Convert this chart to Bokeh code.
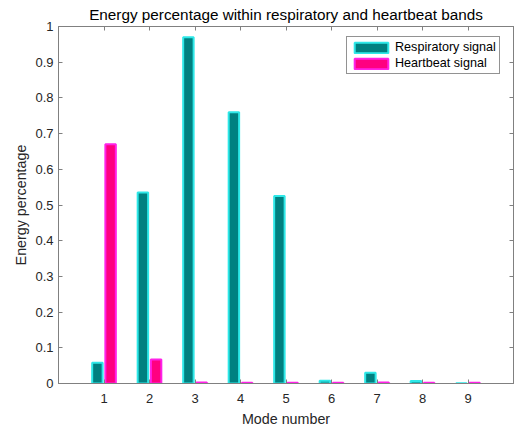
from bokeh.plotting import figure
from bokeh.models import ColumnDataSource, LinearAxis, FixedTicker, Range1d, Legend, LegendItem
from bokeh.transform import dodge
from bokeh.embed import file_html
from bokeh.resources import INLINE

# Energy share of each decomposed mode in the two physiological bands
modes = [1, 2, 3, 4, 5, 6, 7, 8, 9]
respiratory = [0.058, 0.535, 0.970, 0.760, 0.525, 0.008, 0.030, 0.007, 0.001]
heartbeat = [0.670, 0.067, 0.003, 0.002, 0.002, 0.002, 0.003, 0.002, 0.002]
y_ticks = [0, 0.1, 0.2, 0.3, 0.4, 0.5, 0.6, 0.7, 0.8, 0.9, 1]
y_tick_labels = {0: "0", 0.1: "0.1", 0.2: "0.2", 0.3: "0.3", 0.4: "0.4", 0.5: "0.5",
                 0.6: "0.6", 0.7: "0.7", 0.8: "0.8", 0.9: "0.9", 1: "1"}

FONT = "Liberation Sans"
TEXT = "#262626"
AXIS = "#808080"

src = ColumnDataSource(dict(mode=modes, resp=respiratory, heart=heartbeat))

p = figure(width=518, height=429, output_backend="svg", toolbar_location=None,
           x_range=Range1d(0, 10), y_range=Range1d(0, 1),
           min_border_left=58, min_border_right=5, min_border_top=0, min_border_bottom=46)

p.title.text = "Energy percentage within respiratory and heartbeat bands"
p.title.align = "center"
p.title.text_font = FONT
p.title.text_font_size = "15.3px"
p.title.text_font_style = "normal"
p.title.text_color = "#000000"
p.title.offset = 0
p.title.standoff = 7

p.xgrid.visible = False
p.ygrid.visible = False
p.outline_line_color = AXIS
p.outline_line_width = 1
p.background_fill_color = "white"
p.border_fill_color = "white"

r1 = p.vbar(x=dodge("mode", -0.145, range=p.x_range), top="resp", width=0.23, source=src,
            fill_color="#008080", line_color="#2ee8e8", line_width=2)
r2 = p.vbar(x=dodge("mode", 0.145, range=p.x_range), top="heart", width=0.23, source=src,
            fill_color="#ff0080", line_color="#ff22e8", line_width=2)

def style_axis(ax, labels=True):
    ax.axis_line_color = AXIS
    ax.major_tick_line_color = AXIS
    ax.major_tick_in = 4
    ax.major_tick_out = 0
    ax.minor_tick_line_color = None
    ax.major_label_text_font = FONT
    ax.major_label_text_font_size = "13px"
    ax.major_label_text_color = TEXT
    ax.axis_label_text_font = FONT
    ax.axis_label_text_font_size = "14.3px"
    ax.axis_label_text_font_style = "normal"
    ax.axis_label_text_color = TEXT
    if not labels:
        ax.major_label_text_alpha = 0
        ax.major_label_text_font_size = "1px"
        ax.major_label_standoff = 0

xticker = FixedTicker(ticks=modes)
yticker = FixedTicker(ticks=y_ticks)

p.xaxis.ticker = xticker
p.yaxis.ticker = yticker
p.yaxis.major_label_overrides = y_tick_labels
p.xaxis.axis_label = "Mode number"
p.yaxis.axis_label = "Energy percentage"
style_axis(p.xaxis[0])
style_axis(p.yaxis[0])
p.xaxis.major_label_standoff = 10
p.yaxis.major_label_standoff = 5
p.xaxis.axis_label_standoff = 5
p.yaxis.axis_label_standoff = 3

top_ax = LinearAxis(ticker=xticker)
right_ax = LinearAxis(ticker=yticker)
style_axis(top_ax, labels=False)
style_axis(right_ax, labels=False)
p.add_layout(top_ax, "above")
p.add_layout(right_ax, "right")

legend = Legend(items=[LegendItem(label="Respiratory signal", renderers=[r1]),
                       LegendItem(label="Heartbeat signal", renderers=[r2])],
                location=(288, 309))
legend.label_text_font = FONT
legend.label_text_font_size = "12.6px"
legend.label_text_color = "#000000"
legend.glyph_width = 42
legend.glyph_height = 13
legend.label_height = 14
legend.spacing = 2
legend.padding = 3
legend.margin = 0
legend.label_standoff = 3
legend.border_line_color = "#262626"
legend.border_line_width = 1
legend.background_fill_alpha = 1
p.add_layout(legend, "center")

open("out.html", "w").write(file_html(p, INLINE))
